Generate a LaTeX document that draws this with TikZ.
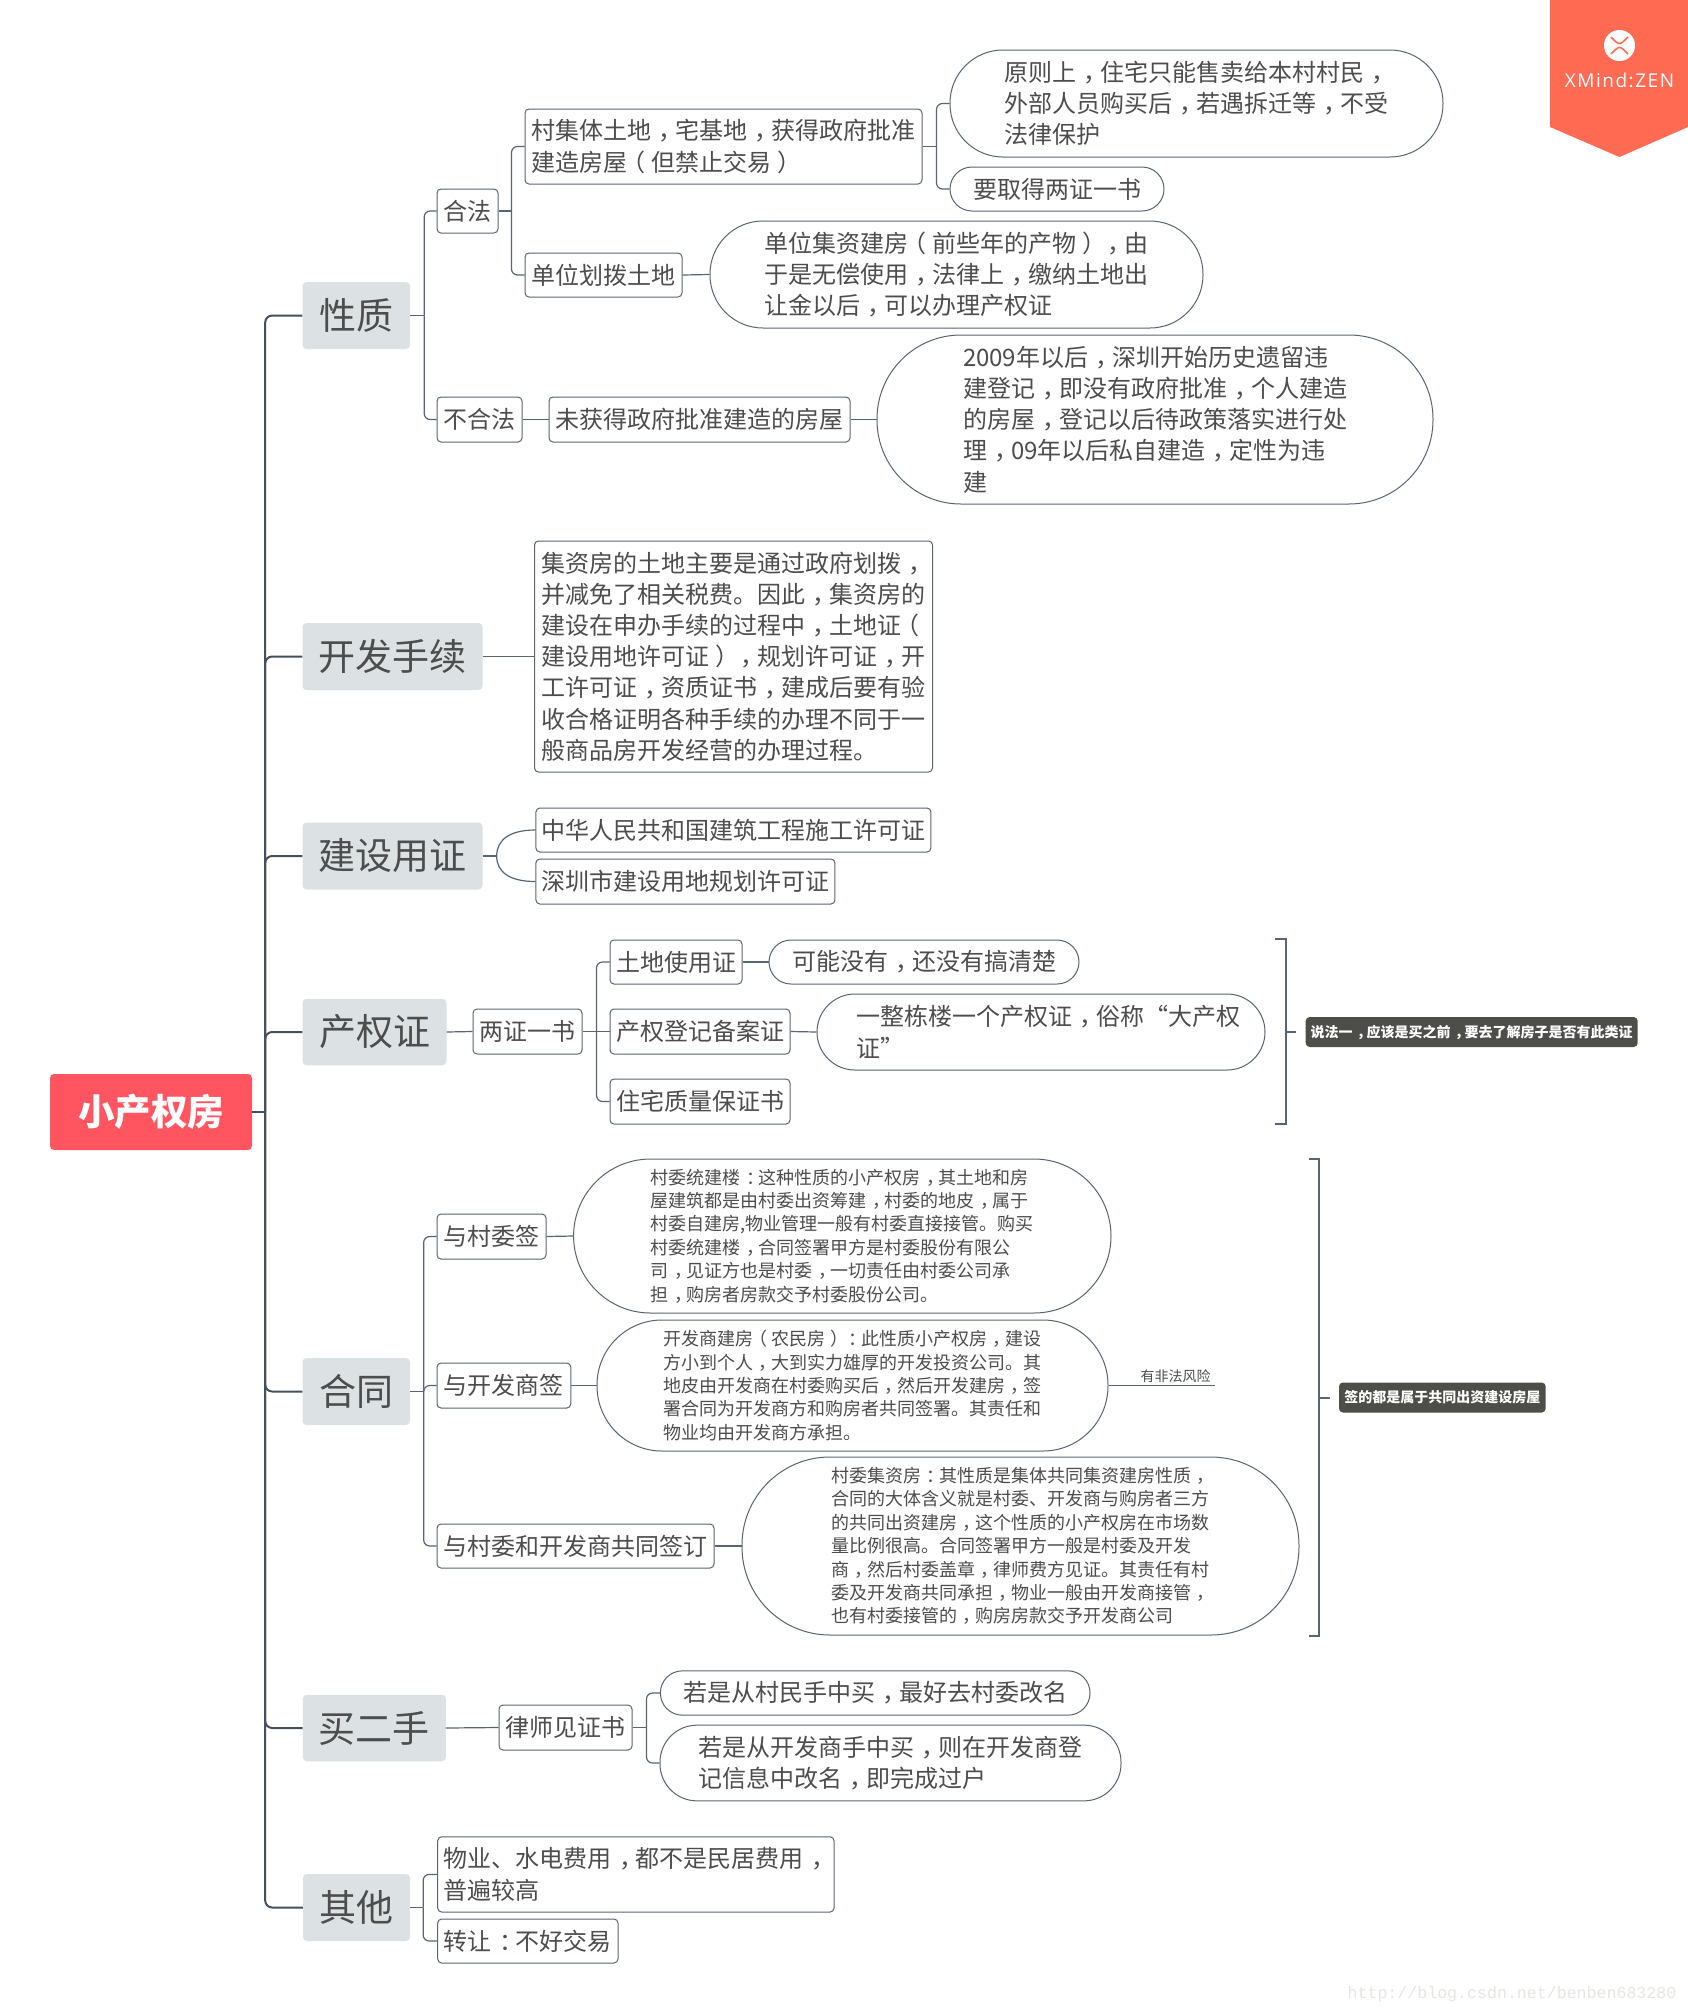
\documentclass[tikz,border=0pt]{standalone}
\usepackage{fontspec}
\setmainfont{Noto Sans CJK SC}
\newfontfamily\monof{Liberation Mono}
\newfontfamily\logof[LetterSpace=8]{Open Sans}
\catcode`，=\active \def，{\kern.3em\char"FF0C\kern-.3em}
\catcode`：=\active \def：{\kern.3em\char"FF1A\kern-.3em}
\catcode`（=\active \def（{\kern-.25em\char"FF08\kern.25em}
\catcode`）=\active \def）{\kern.25em\char"FF09\kern-.25em}
\definecolor{txt}{HTML}{4D4D4D}
\definecolor{ln}{HTML}{5A6570}
\definecolor{tr}{HTML}{46505C}
\definecolor{branchfill}{HTML}{DCE2E3}
\definecolor{rootfill}{HTML}{FF5561}
\definecolor{badge}{HTML}{FF6A53}
\definecolor{notefill}{HTML}{4D4D49}
\definecolor{wmark}{HTML}{E6E6E2}
\tikzset{
  wh/.style 2 args={minimum width=#1pt,minimum height=#2pt},
  base/.style={inner sep=0pt,align=left,text=txt,anchor=center},
  rootbox/.style={base,fill=rootfill,rounded corners=4pt,text=white,font=\fontsize{36.5}{44}\selectfont\bfseries},
  branch/.style={base,fill=branchfill,rounded corners=4pt,font=\fontsize{37}{44}\selectfont},
  box/.style={base,draw=ln,line width=1pt,fill=white,rounded corners=4pt,font=\fontsize{24}{31.2}\selectfont},
  pill/.style={base,draw=ln,line width=1pt,fill=white,rounded corners=#1pt,font=\fontsize{24}{31.2}\selectfont},
  smallpill/.style={base,draw=ln,line width=1pt,fill=white,rounded corners=#1pt,font=\fontsize{18}{23.4}\selectfont},
  notebox/.style={base,fill=notefill,rounded corners=4pt,text=white,font=\fontsize{14}{18}\selectfont\bfseries},
  trunk/.style={draw=tr,line width=2pt,rounded corners=7pt},
  conn/.style={draw=ln,line width=1.2pt,rounded corners=6pt},
  brk/.style={draw=ln,line width=2pt},
}
\begin{document}
\begin{tikzpicture}[x=1pt,y=-1pt]
\useasboundingbox[fill=white] (0,0) rectangle (1688,2014);
% badge
\fill[badge] (1550,0) -- (1688,0) -- (1688,127) -- (1619.5,157) -- (1550,127) -- cycle;
\fill[white] (1619.5,45.5) circle (15.5);
\draw[badge,line width=1.5pt] (1611,37) .. controls (1615,41) and (1617,43.5) .. (1619.5,43.5) .. controls (1622,43.5) and (1624,41) .. (1628,37);
\draw[badge,line width=1.5pt] (1611,54) .. controls (1615,50) and (1617,47.5) .. (1619.5,47.5) .. controls (1622,47.5) and (1624,50) .. (1628,54);
\node[inner sep=0pt,text=white,font=\logof\fontsize{19}{24}\selectfont] (logo) at (1619.5,80) {XMind:ZEN};
% nodes
\node[rootbox,wh={202}{76}] (root) at (151,1112) {小产权房};
\node[branch,wh={107.5}{67}] (xz) at (356.25,315.5) {性质};
\node[branch,wh={180}{67}] (kf) at (392.5,656.5) {开发手续};
\node[branch,wh={180}{67}] (jz) at (392.5,856) {建设用证};
\node[branch,wh={144}{66.5}] (cq) at (374.5,1032) {产权证};
\node[branch,wh={107.5}{67}] (ht) at (356.25,1391.5) {合同};
\node[branch,wh={143}{66.5}] (es) at (374.3,1728) {买二手};
\node[branch,wh={107}{67}] (qt) at (356.5,1907.5) {其他};
\node[box,wh={61}{44}] (hf) at (467.5,211) {合法};
\node[box,wh={397}{75}] (cj) at (723.5,146.5) {村集体土地，宅基地，获得政府批准\\建造房屋（但禁止交易）};
\node[box,wh={157}{44}] (dw) at (603.5,275) {单位划拨土地};
\node[pill=53,wh={493}{107}] (yz) at (1196.5,103.5) {原则上，住宅只能售卖给本村村民，\\外部人员购买后，若遇拆迁等，不受\\法律保护};
\node[pill=22,wh={214}{44}] (lz) at (1057,189) {要取得两证一书};
\node[pill=53,wh={493}{107}] (dp) at (956.5,274.5) {单位集资建房（前些年的产物），由\\于是无偿使用，法律上，缴纳土地出\\让金以后，可以办理产权证};
\node[box,wh={85}{45}] (bhf) at (479.5,419.5) {不合法};
\node[box,wh={301}{45}] (wh) at (699.5,419.5) {未获得政府批准建造的房屋};
\node[pill=84,wh={556}{169}] (p9) at (1155,419.5) {2009年以后，深圳开始历史遗留违\\建登记，即没有政府批准，个人建造\\的房屋，登记以后待政策落实进行处\\理，09年以后私自建造，定性为违\\建};
\node[box,wh={398}{231}] (jf) at (733.5,656.5) {集资房的土地主要是通过政府划拨，\\并减免了相关税费。因此，集资房的\\建设在申办手续的过程中，土地证（\\建设用地许可证），规划许可证，开\\工许可证，资质证书，建成后要有验\\收合格证明各种手续的办理不同于一\\般商品房开发经营的办理过程。};
\node[box,wh={395}{44}] (zh) at (733.4,830) {中华人民共和国建筑工程施工许可证};
\node[box,wh={299}{45}] (sz) at (685.4,881.5) {深圳市建设用地规划许可证};
\node[box,wh={109}{45}] (lq) at (527.5,1031.5) {两证一书};
\node[box,wh={132}{44}] (td) at (676,962) {土地使用证};
\node[box,wh={180}{45}] (cd) at (700,1031.5) {产权登记备案证};
\node[box,wh={180}{45}] (zl) at (700,1101.5) {住宅质量保证书};
\node[pill=22,wh={310}{44}] (kn) at (924,962) {可能没有，还没有搞清楚};
\node[pill=38,wh={448}{76}] (yd) at (1041,1032) {\hspace*{14pt}一整栋楼一个产权证，俗称“大产权\\\hspace*{14pt}证”};
\node[box,wh={109}{45}] (yc) at (491.5,1236.5) {与村委签};
\node[box,wh={133.7}{45}] (yk) at (503.9,1385.5) {与开发商签};
\node[box,wh={277}{44}] (yg) at (575.5,1546) {与村委和开发商共同签订};
\node[smallpill=77,wh={537.4}{154}] (p1) at (842.3,1236) {村委统建楼：这种性质的小产权房，其土地和房\\屋建筑都是由村委出资筹建，村委的地皮，属于\\村委自建房,物业管理一般有村委直接接管。购买\\村委统建楼，合同签署甲方是村委股份有限公\\司，见证方也是村委，一切责任由村委公司承\\担，购房者房款交予村委股份公司。};
\node[smallpill=65,wh={511}{131}] (p2) at (852.5,1385.5) {开发商建房（农民房）：此性质小产权房，建设\\方小到个人，大到实力雄厚的开发投资公司。其\\地皮由开发商在村委购买后，然后开发建房，签\\署合同为开发商方和购房者共同签署。其责任和\\物业均由开发商方承担。};
\node[smallpill=88,wh={557}{178}] (p3) at (1020.5,1546) {村委集资房：其性质是集体共同集资建房性质，\\合同的大体含义就是村委、开发商与购房者三方\\的共同出资建房，这个性质的小产权房在市场数\\量比例很高。合同签署甲方一般是村委及开发\\商，然后村委盖章，律师费方见证。其责任有村\\委及开发商共同承担，物业一般由开发商接管，\\也有村委接管的，购房房款交予开发商公司};
\node[box,wh={133}{45}] (ls) at (565.5,1727.5) {律师见证书};
\node[pill=22,wh={429.6}{44.3}] (cm) at (875.2,1693) {若是从村民手中买，最好去村委改名};
\node[pill=37,wh={461}{75.7}] (ck) at (890.5,1763) {若是从开发商手中买，则在开发商登\\记信息中改名，即完成过户};
\node[box,wh={396.3}{75.3}] (wy) at (635.85,1874.4) {物业、水电费用，都不是民居费用，\\普遍较高};
\node[box,wh={180.3}{44}] (zr) at (527.85,1941) {转让：不好交易};
\node[notebox,wh={332}{30}] (n1) at (1471.7,1032) {说法一，应该是买之前，要去了解房子是否有此类证};
\node[notebox,wh={206.7}{30}] (n2) at (1442.35,1397.5) {签的都是属于共同出资建设房屋};
\node[base,font=\fontsize{14}{18}\selectfont] (fx) at (1175.5,1376.6) {有非法风险};
\node[inner sep=0pt,text=wmark,font=\monof\fontsize{16.6}{20}\selectfont] (wm) at (1512,1994) {http://blog.csdn.net/benben683280};
% trunk
\coordinate (rt) at ([xshift=13pt]root.east);
\draw[trunk] (root.east) -- (rt);
\foreach \b in {xz,kf,jz,cq,ht,es,qt} \draw[trunk] (rt) |- (\b.west);
% forks
\coordinate (fx1) at ([xshift=14pt]xz.east);
\draw[conn] (xz.east) -- (fx1);
\draw[conn] (fx1) |- (hf.west);
\draw[conn] (fx1) |- (bhf.west);
\coordinate (fhf) at ([xshift=13pt]hf.east);
\draw[conn] (hf.east) -- (fhf);
\draw[conn] (fhf) |- (cj.west);
\draw[conn] (fhf) |- (dw.west);
\coordinate (fcj) at ([xshift=14pt]cj.east);
\draw[conn] (cj.east) -- (fcj);
\draw[conn] (fcj) |- (yz.west);
\draw[conn] (fcj) |- (lz.west);
\draw[conn] (dw.east) -- (dp.west);
\draw[conn] (bhf.east) -- (wh.west);
\draw[conn] (wh.east) -- (p9.west);
\draw[conn] (kf.east) -- (jf.west);
\coordinate (fjz) at ([xshift=14pt]jz.east);
\draw[conn] (jz.east) -- (fjz);
\draw[conn] (fjz) .. controls +(0,-16) and +(-26,0) .. (zh.west);
\draw[conn] (fjz) .. controls +(0,16) and +(-26,0) .. (sz.west);
\draw[conn] (cq.east) -- (lq.west);
\coordinate (flq) at ([xshift=14pt]lq.east);
\draw[conn] (lq.east) -- (flq);
\draw[conn] (flq) |- (td.west);
\draw[conn] (flq) -- (cd.west);
\draw[conn] (flq) |- (zl.west);
\draw[conn] (td.east) -- (kn.west);
\draw[conn] (cd.east) -- (yd.west);
\coordinate (fht) at ([xshift=13.5pt]ht.east);
\draw[conn] (ht.east) -- (fht);
\draw[conn] (fht) |- (yc.west);
\draw[conn] (fht) |- (yk.west);
\draw[conn] (fht) |- (yg.west);
\draw[conn] (yc.east) -- (p1.west);
\draw[conn] (yk.east) -- (p2.west);
\draw[conn] (yg.east) -- (p3.west);
\coordinate (fxe) at ([xshift=106pt]p2.east);
\draw[conn] (p2.east) -- (fxe);
\draw[conn] (es.east) -- (ls.west);
\coordinate (fls) at ([xshift=14pt]ls.east);
\draw[conn] (ls.east) -- (fls);
\draw[conn] (fls) |- (cm.west);
\draw[conn] (fls) |- (ck.west);
\coordinate (fqt) at ([xshift=13pt]qt.east);
\draw[conn] (qt.east) -- (fqt);
\draw[conn] (fqt) |- (wy.west);
\draw[conn] (fqt) |- (zr.west);
% brackets
\draw[brk] (1275,939) -- (1286,939) -- (1286,1124) -- (1275,1124);
\coordinate (b1) at (1286,1032);
\draw[brk] (b1) -- ([xshift=-10pt]n1.west);
\draw[brk] (1309,1159) -- (1319,1159) -- (1319,1636) -- (1309,1636);
\coordinate (b2) at (1319,1397.5);
\draw[brk] (b2) -- ([xshift=-9pt]n2.west);
\end{tikzpicture}
\end{document}
